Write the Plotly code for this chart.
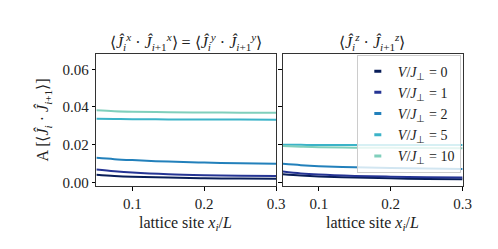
import plotly.graph_objects as go

x_sites = [0.05, 0.075, 0.1, 0.15, 0.2, 0.25, 0.3]
labels = ["0", "1", "2", "5", "10"]
colors = ["#081d58", "#253494", "#2280bb", "#3bb3c8", "#80cfbc"]

xy_vals = [
    [0.0040, 0.0034, 0.0030, 0.0025, 0.0022, 0.0020, 0.0019],
    [0.0068, 0.0059, 0.0052, 0.0043, 0.0038, 0.0035, 0.0033],
    [0.0130, 0.0123, 0.0118, 0.0110, 0.0105, 0.0101, 0.0099],
    [0.0337, 0.0336, 0.0335, 0.0334, 0.0333, 0.0333, 0.0332],
    [0.0383, 0.0378, 0.0375, 0.0372, 0.0371, 0.0370, 0.0370],
]
z_vals = [
    [0.0043, 0.0036, 0.0031, 0.0025, 0.0021, 0.0018, 0.0016],
    [0.0057, 0.0047, 0.0041, 0.0034, 0.0030, 0.0027, 0.0025],
    [0.0098, 0.0091, 0.0086, 0.0080, 0.0076, 0.0073, 0.0071],
    [0.0199, 0.0199, 0.0198, 0.0198, 0.0198, 0.0198, 0.0198],
    [0.0193, 0.0189, 0.0186, 0.0184, 0.0183, 0.0182, 0.0181],
]

x_ticks = [0.1, 0.2, 0.3]
y_ticks = [0.0, 0.02, 0.04, 0.06]
y_ticklabels = ["0.00", "0.02", "0.04", "0.06"]

FONT = "Liberation Serif"
fig = go.Figure()

for i, lab in enumerate(labels):
    fig.add_trace(go.Scatter(x=x_sites, y=xy_vals[i], mode="lines", line=dict(color=colors[i], width=2, shape="spline"),
                             xaxis="x", yaxis="y", showlegend=False))
    fig.add_trace(go.Scatter(x=x_sites, y=z_vals[i], mode="lines", line=dict(color=colors[i], width=2, shape="spline"),
                             xaxis="x2", yaxis="y2", showlegend=False))
for i, lab in enumerate(labels):
    fig.add_trace(go.Scatter(x=[None], y=[None], mode="markers",
                             marker=dict(symbol="line-ew-open", size=5, color=colors[i],
                                         line=dict(color=colors[i], width=3)),
                             name="<i>V</i>/<i>J</i><sub>⊥</sub> = " + lab, xaxis="x2", yaxis="y2"))

ax_common = dict(range=[0.05, 0.3], tickvals=x_ticks, ticktext=["0.1", "0.2", "0.3"], ticks="outside", ticklen=3.5,
                 tickcolor="black", showline=True, linecolor="#333", linewidth=1.2, mirror=True, showgrid=False,
                 zeroline=False, tickfont=dict(size=15, color="#222"))
y_common = dict(range=[-0.002, 0.068], tickvals=y_ticks, ticks="outside", ticklen=3.5, tickcolor="black",
                showline=True, linecolor="#333", linewidth=1.2, mirror=True, showgrid=False, zeroline=False,
                tickfont=dict(size=15, color="#222"), domain=[0.2731, 0.8112])

ann_common = dict(xref="paper", yref="paper", showarrow=False, xanchor="center", yanchor="middle",
                  font=dict(size=16))

fig.update_layout(
    width=498, height=249, margin=dict(l=0, r=0, t=0, b=0),
    paper_bgcolor="white", plot_bgcolor="white",
    font=dict(family=FONT, color="#222", size=14),
    xaxis=dict(ax_common, domain=[0.1807, 0.5482], anchor="y"),
    xaxis2=dict(ax_common, domain=[0.5622, 0.9297], anchor="y2"),
    yaxis=dict(y_common, ticktext=y_ticklabels, anchor="x"),
    yaxis2=dict(y_common, ticktext=[""] * 4, anchor="x2", matches="y"),
    legend=dict(x=0.926, y=0.81, xanchor="right", yanchor="top", bgcolor="rgba(255,255,255,0.8)",
                bordercolor="#ccc", borderwidth=1, font=dict(size=14), itemwidth=30, tracegroupgap=0),
    annotations=[
        dict(ann_common, text="⟨<i>Ĵ</i><sub><i>i</i></sub><sup><i>x</i></sup> · <i>Ĵ</i><sub><i>i</i>+1</sub><sup><i>x</i></sup>⟩ = ⟨<i>Ĵ</i><sub><i>i</i></sub><sup><i>y</i></sup> · <i>Ĵ</i><sub><i>i</i>+1</sub><sup><i>y</i></sup>⟩",
             x=181 / 498, y=1 - 35 / 249),
        dict(ann_common, text="⟨<i>Ĵ</i><sub><i>i</i></sub><sup><i>z</i></sup> · <i>Ĵ</i><sub><i>i</i>+1</sub><sup><i>z</i></sup>⟩",
             x=371 / 498, y=1 - 35 / 249),
        dict(ann_common, text="lattice site <i>x<sub>i</sub></i>/<i>L</i>", x=181 / 498, y=1 - 219 / 249),
        dict(ann_common, text="lattice site <i>x<sub>i</sub></i>/<i>L</i>", x=371 / 498, y=1 - 219 / 249),
        dict(ann_common, text="A [⟨<i>Ĵ</i><sub><i>i</i></sub> · <i>Ĵ</i><sub><i>i</i>+1</sub>⟩]", x=36 / 498,
             y=1 - 114 / 249, textangle=-90),
    ],
)

fig.write_html("out.html")
